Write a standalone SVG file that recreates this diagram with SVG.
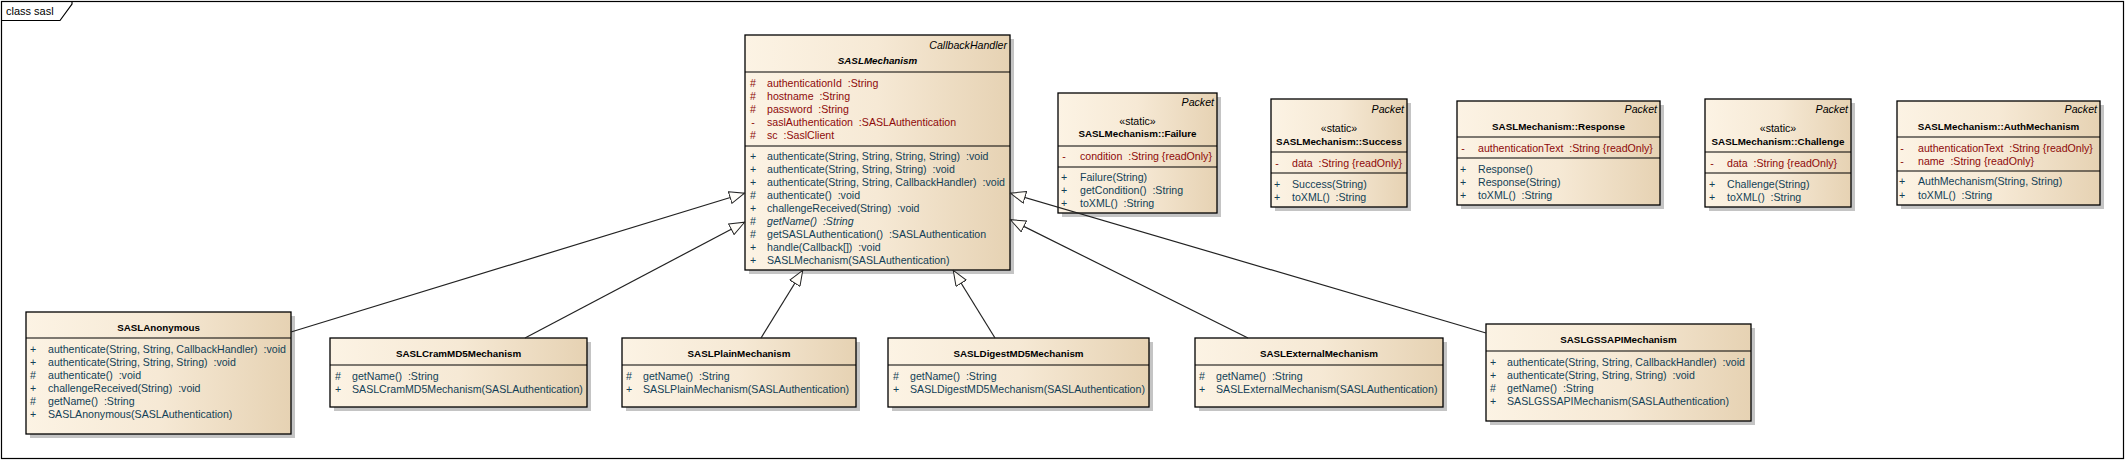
<svg xmlns="http://www.w3.org/2000/svg" width="2126" height="460" viewBox="0 0 2126 460">
<defs>
<linearGradient id="g" x1="0" y1="0" x2="1" y2="0">
<stop offset="0" stop-color="#FCF3E4"/>
<stop offset="0.5" stop-color="#F6E9D5"/>
<stop offset="1" stop-color="#E6D2B3"/>
</linearGradient>
<marker id="tri" markerUnits="userSpaceOnUse" viewBox="0 0 16 13" refX="16" refY="6.5" markerWidth="16" markerHeight="13" orient="auto">
<path d="M0.5,0.5 L15.5,6.5 L0.5,12.5 Z" fill="#FFFDF8" stroke="#222" stroke-width="1"/>
</marker>
</defs>
<style>
text{font-family:"Liberation Sans",Arial,sans-serif;font-size:10.6px;white-space:pre;fill:#000}
.sh{fill:#C4C4C4}
.bx{fill:url(#g);stroke:#000;stroke-width:1.3}
.sep{stroke:#000;stroke-width:1.2}
.t{font-weight:bold;font-size:9.8px;text-anchor:middle}
.ti{font-weight:bold;font-style:italic;font-size:9.8px;text-anchor:middle}
.st{text-anchor:middle}
.pk{font-style:italic;text-anchor:end}
.a{fill:#8E0A0A}
.m{fill:#123F56}
.v{text-anchor:middle}
.it{font-style:italic}
.con{stroke:#222;stroke-width:1.2;fill:none;marker-end:url(#tri)}
</style>
<rect width="2126" height="460" fill="#fff"/>
<g id="frame">
<rect x="1.5" y="1.5" width="2122" height="457" fill="none" stroke="#000" stroke-width="1.2"/>
<path d="M1.5,20.5 L60,20.5 L72,4 L72,1.5" fill="none" stroke="#000" stroke-width="1.2"/>
<text x="6" y="14.5" style="font-size:11px">class sasl</text>
</g>

<g id="SASLMechanism">
<rect class="sh" x="749" y="39" width="265" height="235"/>
<rect class="bx" x="745" y="35" width="265" height="235"/>
<line class="sep" x1="745" y1="72" x2="1010" y2="72"/>
<line class="sep" x1="745" y1="146" x2="1010" y2="146"/>
<text class="pk" x="1007" y="49">CallbackHandler</text>
<text class="ti" x="877.5" y="64">SASLMechanism</text>
<text class="a v" x="753" y="87">#</text><text class="a" x="767" y="87">authenticationId  :String</text>
<text class="a v" x="753" y="100">#</text><text class="a" x="767" y="100">hostname  :String</text>
<text class="a v" x="753" y="113">#</text><text class="a" x="767" y="113">password  :String</text>
<text class="a v" x="753" y="126">-</text><text class="a" x="767" y="126">saslAuthentication  :SASLAuthentication</text>
<text class="a v" x="753" y="139">#</text><text class="a" x="767" y="139">sc  :SaslClient</text>
<text class="m v" x="753" y="160">+</text><text class="m" x="767" y="160">authenticate(String, String, String, String)  :void</text>
<text class="m v" x="753" y="173">+</text><text class="m" x="767" y="173">authenticate(String, String, String)  :void</text>
<text class="m v" x="753" y="186">+</text><text class="m" x="767" y="186">authenticate(String, String, CallbackHandler)  :void</text>
<text class="m v" x="753" y="199">#</text><text class="m" x="767" y="199">authenticate()  :void</text>
<text class="m v" x="753" y="212">+</text><text class="m" x="767" y="212">challengeReceived(String)  :void</text>
<text class="m v" x="753" y="225">#</text><text class="m it" x="767" y="225">getName()  :String</text>
<text class="m v" x="753" y="238">#</text><text class="m" x="767" y="238">getSASLAuthentication()  :SASLAuthentication</text>
<text class="m v" x="753" y="251">+</text><text class="m" x="767" y="251">handle(Callback[])  :void</text>
<text class="m v" x="753" y="264">+</text><text class="m" x="767" y="264">SASLMechanism(SASLAuthentication)</text>
</g>

<g id="Failure">
<rect class="sh" x="1062" y="97" width="159" height="120"/>
<rect class="bx" x="1058" y="93" width="159" height="120"/>
<line class="sep" x1="1058" y1="146" x2="1217" y2="146"/>
<line class="sep" x1="1058" y1="167" x2="1217" y2="167"/>
<text class="pk" x="1214" y="105.7">Packet</text>
<text class="st" x="1137.5" y="125">«static»</text>
<text class="t" x="1137.5" y="137.3">SASLMechanism::Failure</text>
<text class="a v" x="1064" y="160">-</text><text class="a" x="1080" y="160">condition  :String {readOnly}</text>
<text class="m v" x="1064" y="180.7">+</text><text class="m" x="1080" y="180.7">Failure(String)</text>
<text class="m v" x="1064" y="193.7">+</text><text class="m" x="1080" y="193.7">getCondition()  :String</text>
<text class="m v" x="1064" y="206.7">+</text><text class="m" x="1080" y="206.7">toXML()  :String</text>
</g>

<g id="Success">
<rect class="sh" x="1275" y="103" width="136" height="108"/>
<rect class="bx" x="1271" y="99" width="136" height="108"/>
<line class="sep" x1="1271" y1="152" x2="1407" y2="152"/>
<line class="sep" x1="1271" y1="173" x2="1407" y2="173"/>
<text class="pk" x="1404" y="112.7">Packet</text>
<text class="st" x="1339" y="132.3">«static»</text>
<text class="t" x="1339" y="144.7">SASLMechanism::Success</text>
<text class="a v" x="1277" y="166.7">-</text><text class="a" x="1292" y="166.7">data  :String {readOnly}</text>
<text class="m v" x="1277" y="187.7">+</text><text class="m" x="1292" y="187.7">Success(String)</text>
<text class="m v" x="1277" y="200.7">+</text><text class="m" x="1292" y="200.7">toXML()  :String</text>
</g>

<g id="Response">
<rect class="sh" x="1461" y="105" width="203" height="104"/>
<rect class="bx" x="1457" y="101" width="203" height="104"/>
<line class="sep" x1="1457" y1="137" x2="1660" y2="137"/>
<line class="sep" x1="1457" y1="158" x2="1660" y2="158"/>
<text class="pk" x="1657" y="113.3">Packet</text>
<text class="t" x="1558.5" y="129.7">SASLMechanism::Response</text>
<text class="a v" x="1463" y="152">-</text><text class="a" x="1478" y="152">authenticationText  :String {readOnly}</text>
<text class="m v" x="1463" y="173">+</text><text class="m" x="1478" y="173">Response()</text>
<text class="m v" x="1463" y="185.7">+</text><text class="m" x="1478" y="185.7">Response(String)</text>
<text class="m v" x="1463" y="198.7">+</text><text class="m" x="1478" y="198.7">toXML()  :String</text>
</g>

<g id="Challenge">
<rect class="sh" x="1709" y="103" width="146" height="108"/>
<rect class="bx" x="1705" y="99" width="146" height="108"/>
<line class="sep" x1="1705" y1="152" x2="1851" y2="152"/>
<line class="sep" x1="1705" y1="173" x2="1851" y2="173"/>
<text class="pk" x="1848" y="112.7">Packet</text>
<text class="st" x="1778" y="132.3">«static»</text>
<text class="t" x="1778" y="144.7">SASLMechanism::Challenge</text>
<text class="a v" x="1712" y="166.7">-</text><text class="a" x="1727" y="166.7">data  :String {readOnly}</text>
<text class="m v" x="1712" y="187.7">+</text><text class="m" x="1727" y="187.7">Challenge(String)</text>
<text class="m v" x="1712" y="200.7">+</text><text class="m" x="1727" y="200.7">toXML()  :String</text>
</g>

<g id="AuthMechanism">
<rect class="sh" x="1901" y="105" width="203" height="104"/>
<rect class="bx" x="1897" y="101" width="203" height="104"/>
<line class="sep" x1="1897" y1="137" x2="2100" y2="137"/>
<line class="sep" x1="1897" y1="171" x2="2100" y2="171"/>
<text class="pk" x="2097" y="113.3">Packet</text>
<text class="t" x="1998.5" y="129.7">SASLMechanism::AuthMechanism</text>
<text class="a v" x="1902" y="151.7">-</text><text class="a" x="1918" y="151.7">authenticationText  :String {readOnly}</text>
<text class="a v" x="1902" y="165">-</text><text class="a" x="1918" y="165">name  :String {readOnly}</text>
<text class="m v" x="1902" y="185.3">+</text><text class="m" x="1918" y="185.3">AuthMechanism(String, String)</text>
<text class="m v" x="1902" y="199">+</text><text class="m" x="1918" y="199">toXML()  :String</text>
</g>

<g id="SASLAnonymous">
<rect class="sh" x="30" y="316" width="265" height="122"/>
<rect class="bx" x="26" y="312" width="265" height="122"/>
<line class="sep" x1="26" y1="338" x2="291" y2="338"/>
<text class="t" x="158.5" y="330.7">SASLAnonymous</text>
<text class="m v" x="33" y="353">+</text><text class="m" x="48" y="353">authenticate(String, String, CallbackHandler)  :void</text>
<text class="m v" x="33" y="365.7">+</text><text class="m" x="48" y="365.7">authenticate(String, String, String)  :void</text>
<text class="m v" x="33" y="378.7">#</text><text class="m" x="48" y="378.7">authenticate()  :void</text>
<text class="m v" x="33" y="391.7">+</text><text class="m" x="48" y="391.7">challengeReceived(String)  :void</text>
<text class="m v" x="33" y="404.7">#</text><text class="m" x="48" y="404.7">getName()  :String</text>
<text class="m v" x="33" y="417.7">+</text><text class="m" x="48" y="417.7">SASLAnonymous(SASLAuthentication)</text>
</g>

<g id="SASLCramMD5Mechanism">
<rect class="sh" x="334" y="342" width="257" height="69"/>
<rect class="bx" x="330" y="338" width="257" height="69"/>
<line class="sep" x1="330" y1="365" x2="587" y2="365"/>
<text class="t" x="458.5" y="357.3">SASLCramMD5Mechanism</text>
<text class="m v" x="338" y="380">#</text><text class="m" x="352" y="380">getName()  :String</text>
<text class="m v" x="338" y="392.7">+</text><text class="m" x="352" y="392.7">SASLCramMD5Mechanism(SASLAuthentication)</text>
</g>

<g id="SASLPlainMechanism">
<rect class="sh" x="626" y="342" width="234" height="69"/>
<rect class="bx" x="622" y="338" width="234" height="69"/>
<line class="sep" x1="622" y1="365" x2="856" y2="365"/>
<text class="t" x="739" y="357.3">SASLPlainMechanism</text>
<text class="m v" x="629" y="380">#</text><text class="m" x="643" y="380">getName()  :String</text>
<text class="m v" x="629" y="392.7">+</text><text class="m" x="643" y="392.7">SASLPlainMechanism(SASLAuthentication)</text>
</g>

<g id="SASLDigestMD5Mechanism">
<rect class="sh" x="892" y="342" width="261" height="69"/>
<rect class="bx" x="888" y="338" width="261" height="69"/>
<line class="sep" x1="888" y1="365" x2="1149" y2="365"/>
<text class="t" x="1018.5" y="357.3">SASLDigestMD5Mechanism</text>
<text class="m v" x="896" y="380">#</text><text class="m" x="910" y="380">getName()  :String</text>
<text class="m v" x="896" y="392.7">+</text><text class="m" x="910" y="392.7">SASLDigestMD5Mechanism(SASLAuthentication)</text>
</g>

<g id="SASLExternalMechanism">
<rect class="sh" x="1199" y="342" width="248" height="69"/>
<rect class="bx" x="1195" y="338" width="248" height="69"/>
<line class="sep" x1="1195" y1="365" x2="1443" y2="365"/>
<text class="t" x="1319" y="357.3">SASLExternalMechanism</text>
<text class="m v" x="1202" y="380">#</text><text class="m" x="1216" y="380">getName()  :String</text>
<text class="m v" x="1202" y="392.7">+</text><text class="m" x="1216" y="392.7">SASLExternalMechanism(SASLAuthentication)</text>
</g>

<g id="SASLGSSAPIMechanism">
<rect class="sh" x="1490" y="328" width="265" height="97"/>
<rect class="bx" x="1486" y="324" width="265" height="97"/>
<line class="sep" x1="1486" y1="351" x2="1751" y2="351"/>
<text class="t" x="1618.5" y="343.3">SASLGSSAPIMechanism</text>
<text class="m v" x="1493" y="365.7">+</text><text class="m" x="1507" y="365.7">authenticate(String, String, CallbackHandler)  :void</text>
<text class="m v" x="1493" y="378.7">+</text><text class="m" x="1507" y="378.7">authenticate(String, String, String)  :void</text>
<text class="m v" x="1493" y="391.7">#</text><text class="m" x="1507" y="391.7">getName()  :String</text>
<text class="m v" x="1493" y="404.7">+</text><text class="m" x="1507" y="404.7">SASLGSSAPIMechanism(SASLAuthentication)</text>
</g>

<g id="connectors">
<line class="con" x1="291" y1="332" x2="745" y2="193"/>
<line class="con" x1="525" y1="338" x2="745" y2="222"/>
<line class="con" x1="761" y1="338" x2="803" y2="270"/>
<line class="con" x1="995" y1="338" x2="953" y2="270"/>
<line class="con" x1="1248" y1="338" x2="1010" y2="219.5"/>
<line class="con" x1="1486" y1="333" x2="1010" y2="193"/>
</g>
</svg>
